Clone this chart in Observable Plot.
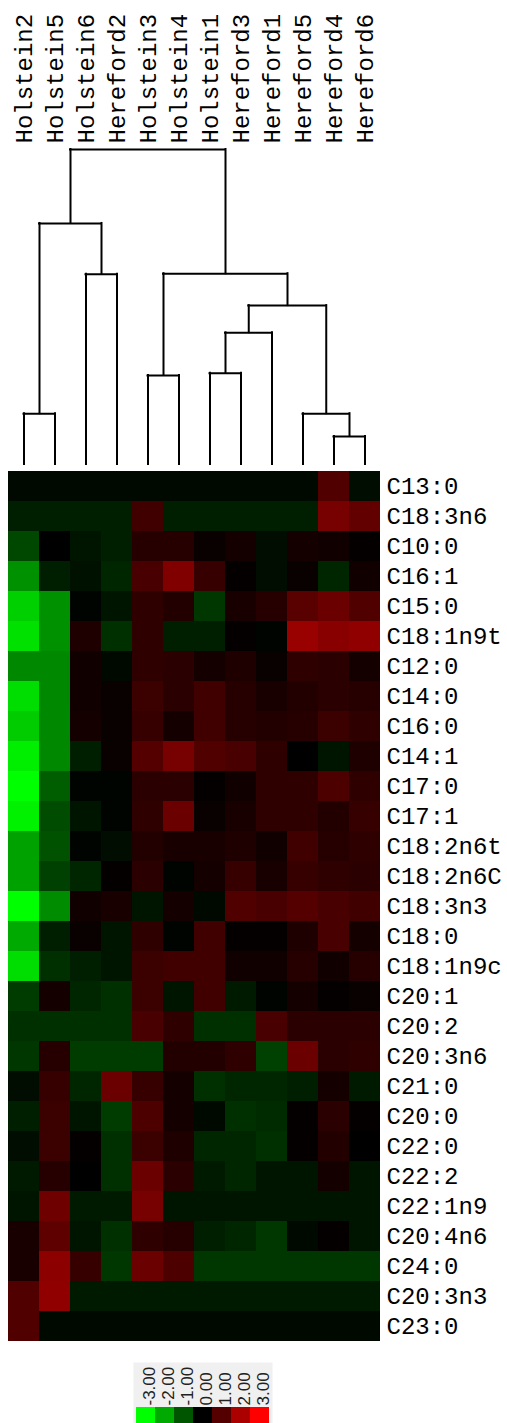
<!DOCTYPE html>
<html><head><meta charset="utf-8">
<script src="https://cdn.jsdelivr.net/npm/d3@7"></script>
<script src="https://cdn.jsdelivr.net/npm/@observablehq/plot@0.6"></script>
<style>
body{margin:0;background:#fff;}
#chart svg{display:block;}
</style></head><body><div id="chart"></div>
<script>
const columns = ["Holstein2","Holstein5","Holstein6","Hereford2","Holstein3","Holstein4","Holstein1","Hereford3","Hereford1","Hereford5","Hereford4","Hereford6"];
const rows = ["C13:0","C18:3n6","C10:0","C16:1","C15:0","C18:1n9t","C12:0","C14:0","C16:0","C14:1","C17:0","C17:1","C18:2n6t","C18:2n6C","C18:3n3","C18:0","C18:1n9c","C20:1","C20:2","C20:3n6","C21:0","C20:0","C22:0","C22:2","C22:1n9","C20:4n6","C24:0","C20:3n3","C23:0"];
const values = [
  [-0.1,-0.1,-0.1,-0.1,-0.1,-0.1,-0.1,-0.1,-0.1,-0.1,0.95,-0.15],
  [-0.35,-0.35,-0.35,-0.35,0.75,-0.35,-0.35,-0.35,-0.35,-0.35,1.4,1.15],
  [-0.85,0,-0.25,-0.35,0.45,0.45,0.1,0.25,-0.15,0.25,0.2,0.05],
  [-1.7,-0.35,-0.2,-0.45,0.85,1.5,0.65,0.05,-0.15,0.1,-0.45,0.2],
  [-2.45,-1.7,-0.05,-0.25,0.55,0.4,-0.65,0.3,0.45,1.05,1.25,0.95],
  [-2.65,-1.7,0.35,-0.55,0.55,-0.35,-0.35,0.05,-0.05,1.8,1.6,1.7],
  [-1.6,-1.6,0.2,-0.1,0.55,0.5,0.25,0.35,0.1,0.55,0.5,0.25],
  [-2.6,-1.6,0.2,0.1,0.7,0.5,0.75,0.45,0.3,0.4,0.5,0.45],
  [-2.4,-1.6,0.25,0.1,0.65,0.25,0.75,0.45,0.4,0.45,0.7,0.55],
  [-2.8,-1.6,-0.35,0.1,1.0,1.4,0.95,0.85,0.55,0,-0.25,0.35],
  [-3.0,-1.1,-0.05,-0.05,0.5,0.5,0.05,0.2,0.55,0.55,0.9,0.55],
  [-2.85,-0.9,-0.25,-0.05,0.55,1.25,0.1,0.3,0.55,0.55,0.4,0.65],
  [-1.9,-0.95,-0.05,-0.15,0.4,0.3,0.3,0.35,0.2,0.75,0.45,0.55],
  [-1.9,-0.75,-0.45,0.05,0.5,-0.05,0.25,0.65,0.3,0.65,0.55,0.5],
  [-3.0,-1.65,0.2,0.3,-0.25,0.25,-0.1,0.95,0.85,1.0,0.85,0.75],
  [-2.0,-0.35,0.1,-0.25,0.55,-0.05,0.75,0.05,0.05,0.35,0.85,0.25],
  [-2.6,-0.55,-0.35,-0.25,0.7,0.75,0.75,0.2,0.2,0.45,0.2,0.45],
  [-0.7,0.25,-0.45,-0.55,0.7,-0.25,0.75,-0.3,-0.05,0.25,0.05,0.1],
  [-0.55,-0.55,-0.55,-0.55,0.85,0.55,-0.55,-0.55,0.85,0.5,0.5,0.5],
  [-0.65,0.45,-0.7,-0.7,-0.7,0.4,0.4,0.55,-0.75,1.25,0.5,0.55],
  [-0.15,0.65,-0.45,1.25,0.65,0.25,-0.55,-0.45,-0.45,-0.35,0.25,-0.3],
  [-0.35,0.7,-0.25,-0.7,0.9,0.25,-0.1,-0.55,-0.5,0.05,0.5,0.05],
  [-0.15,0.7,0.05,-0.55,0.7,0.35,-0.45,-0.45,-0.55,0.05,0.4,0],
  [-0.3,0.45,0,-0.55,1.25,0.5,-0.3,-0.45,-0.25,-0.25,0.25,-0.25],
  [-0.25,1.3,-0.3,-0.3,1.4,-0.25,-0.25,-0.25,-0.25,-0.25,-0.25,-0.25],
  [0.3,1.1,-0.25,-0.55,0.55,0.45,-0.35,-0.45,-0.65,-0.1,0.05,-0.25],
  [0.3,1.65,0.65,-0.65,1.25,0.9,-0.65,-0.65,-0.65,-0.65,-0.65,-0.65],
  [0.95,1.7,-0.3,-0.3,-0.3,-0.3,-0.3,-0.3,-0.3,-0.3,-0.3,-0.3],
  [0.95,-0.1,-0.1,-0.1,-0.1,-0.1,-0.1,-0.1,-0.1,-0.1,-0.1,-0.1]
];
// dendrogram merges: [childA, childB, height]; ids 0-11 = leaves, 12+ = merges in order
const merges = [
  [10,11,0.092],
  [0,1,0.164],
  [9,12,0.164],
  [4,5,0.285],
  [6,7,0.292],
  [16,8,0.420],
  [17,14,0.506],
  [2,3,0.605],
  [15,18,0.607],
  [13,19,0.766],
  [21,20,1.0]
];
const legendTicks = [-3,-2,-1,0,1,2,3];
const legendLabels = ["-3.00","-2.00","-1.00","0.00","1.00","2.00","3.00"];

// build dendrogram segments
const nodeX = columns.map((d,i)=>i), nodeH = columns.map(()=>0);
const verticals = [], horizontals = [];
for (const [a,b,h] of merges) {
  verticals.push({x: nodeX[a], y1: nodeH[a], y2: h});
  verticals.push({x: nodeX[b], y1: nodeH[b], y2: h});
  horizontals.push({x1: nodeX[a], x2: nodeX[b], y: h});
  nodeX.push((nodeX[a]+nodeX[b])/2);
  nodeH.push(h);
}

const colorScale = {type:"linear", domain:[-3,0,3], range:["#00ff00","#000000","#ff0000"], interpolate:"rgb", clamp:true};
const mono = "'Liberation Mono', 'Courier New', monospace";

const dendro = Plot.plot({
  width: 507, height: 465,
  marginLeft: 8, marginRight: 127, marginTop: 149, marginBottom: 0,
  x: {domain: [-0.5, 11.5], axis: null},
  y: {domain: [0, 1], axis: null},
  marks: [
    Plot.ruleX(verticals, {x:"x", y1:"y1", y2:"y2", stroke:"#000", strokeWidth:2, strokeLinecap:"square"}),
    Plot.ruleY(horizontals, {x1:"x1", x2:"x2", y:"y", stroke:"#000", strokeWidth:2, strokeLinecap:"square"}),
    Plot.text(columns, {x:(d,i)=>i, y:1, dy:-6, text:d=>d, rotate:-90, textAnchor:"start", fontSize:24, fontFamily:mono, fill:"#000"})
  ]
});

const cells = rows.flatMap((r,i)=>columns.map((c,j)=>({row:r, col:c, value:values[i][j]})));
const heat = Plot.plot({
  width: 507, height: 882,
  marginLeft: 8, marginRight: 127, marginTop: 0, marginBottom: 0,
  x: {domain: columns, axis: null, padding: 0},
  y: {domain: rows, padding: 0, axis: null},
  color: colorScale,
  marks: [
    Plot.cell(cells, {x:"col", y:"row", fill:"value", inset:0, shapeRendering:"crispEdges"}),
    Plot.axisY({anchor:"right", tickSize:0, tickPadding:6, fontSize:24, fontFamily:mono, label:null, fill:"#000"})
  ]
});

const legend = Plot.plot({
  width: 507, height: 76,
  marginLeft: 133, marginRight: 235, marginTop: 15, marginBottom: 0,
  x: {domain: legendTicks, type:"band", padding:0, axis:null},
  y: {domain: [0, 61], axis:null},
  color: colorScale,
  marks: [
    Plot.frame({fill:"#f0f0f0", stroke:"none"}),
    Plot.barY(legendTicks, {x:d=>d, y1:0, y2:16, fill:d=>d, inset:0}),
    Plot.text(legendLabels, {x:(d,i)=>legendTicks[i], y:18, dx:4, text:d=>d, rotate:-90, textAnchor:"start", fontSize:17, fontFamily:"'Liberation Sans', Arial, sans-serif", fill:"#222"})
  ]
});

const root = document.getElementById("chart");
root.append(dendro, heat, legend);
</script>
</body></html>
